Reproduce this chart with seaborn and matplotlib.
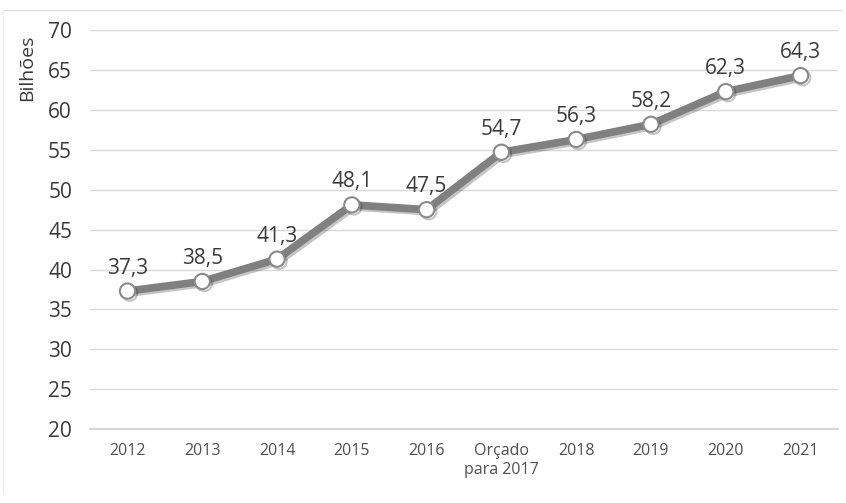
import matplotlib
matplotlib.use("Agg")
import matplotlib.pyplot as plt
import matplotlib.patheffects as pe
import seaborn as sns
import pandas as pd

categories = ["2012", "2013", "2014", "2015", "2016", "Orçado\npara 2017",
              "2018", "2019", "2020", "2021"]
values = [37.3, 38.5, 41.3, 48.1, 47.5, 54.7, 56.3, 58.2, 62.3, 64.3]
labels = ["37,3", "38,5", "41,3", "48,1", "47,5", "54,7", "56,3", "58,2", "62,3", "64,3"]
yticks = [20, 25, 30, 35, 40, 45, 50, 55, 60, 65, 70]

sns.set_theme(style="white")
plt.rcParams['font.family'] = ['Open Sans', 'DejaVu Sans']

df = pd.DataFrame({"cat": categories, "val": values})

fig = plt.figure(figsize=(8.46, 5.03), dpi=100)
ax = fig.add_axes([0.1065, 0.147, 0.884, 0.793])

sns.lineplot(data=df, x="cat", y="val", ax=ax, color="#808080", linewidth=5.5,
             marker="o", markersize=11, markerfacecolor="white",
             markeredgecolor="#8a8a8a", markeredgewidth=1.5, sort=False,
             path_effects=[pe.SimpleLineShadow(offset=(1.5, -1.5), alpha=0.25), pe.Normal()])

for i, (v, lab) in enumerate(zip(values, labels)):
    ax.annotate(lab, (i, v), xytext=(0, 9), textcoords="offset points",
                ha="center", va="bottom", fontsize=15, color="#3a3a3a")

ax.set_ylim(20, 70)
ax.set_xlim(-0.5, len(categories) - 0.5)
ax.set_yticks(yticks)
ax.set_yticklabels([str(t) for t in yticks], fontsize=15, color="#3a3a3a")
ax.set_xticks(range(len(categories)))
ax.set_xticklabels(categories, fontsize=11.5, color="#505050", linespacing=1.25)
ax.tick_params(axis="y", length=0, pad=13)
ax.tick_params(axis="x", length=0, pad=10)
ax.yaxis.grid(True, color="#d9d9d9", linewidth=1)
ax.set_axisbelow(True)
for s in ["top", "right", "left"]:
    ax.spines[s].set_visible(False)
ax.spines["bottom"].set_color("#d0d0d0")
ax.set_xlabel("")
ax.set_ylabel("")

fig.text(0.032, 0.865, "Bilhões", rotation=90, ha="center", va="center",
         fontsize=14, color="#3a3a3a")

# faint outer frame
fig.add_artist(plt.Line2D([0.004, 0.995], [0.980, 0.980], color="#e0e0e0", linewidth=1))
fig.add_artist(plt.Line2D([0.004, 0.004], [0.02, 0.980], color="#eeeeee", linewidth=1))

fig.savefig("out.png", dpi=100)
